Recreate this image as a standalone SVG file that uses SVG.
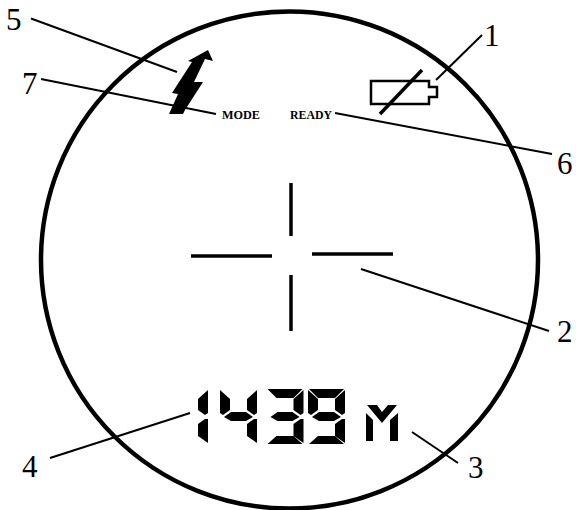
<svg xmlns="http://www.w3.org/2000/svg" width="576" height="510" viewBox="0 0 576 510">
<style>
.ln{stroke:#000;stroke-width:2;fill:none}
.num{font-family:"Liberation Serif",serif;font-size:31px;fill:#000}
.lb{font-family:"Liberation Serif",serif;font-size:12px;font-weight:bold;fill:#000}
.x{stroke:#000;stroke-width:3.500;fill:none}
</style>
<defs>
<polygon id="t" points="1,0 36,0 27,9 10,9"/>
<polygon id="b" points="1,55 36,55 27,47 10,47"/>
<polygon id="m" points="4,28 11,23 26,23 33,28 26,32 11,32"/>
<polygon id="ul" points="0,1 10,10 10,21 3,26 0,24"/>
<polygon id="ll" points="0,30 3,30 10,35 10,47 0,54"/>
<polygon id="ur" points="37,1 27,10 27,21 34,26 37,24"/>
<polygon id="lr" points="37,30 34,30 27,35 27,47 37,54"/>
</defs>
<g id="scope"><circle cx="289.500" cy="260" r="248.500" fill="none" stroke="#000" stroke-width="4.500"/></g>
<g id="connectors">
<line class="ln" x1="31" y1="18.500" x2="177" y2="72"/>
<line class="ln" x1="41" y1="79" x2="216" y2="114"/>
<line class="ln" x1="482" y1="35" x2="436" y2="80"/>
<line class="ln" x1="335" y1="113" x2="552" y2="154"/>
<line class="ln" x1="361" y1="269" x2="549" y2="331"/>
<line class="ln" x1="50" y1="458" x2="190" y2="413"/>
<line class="ln" x1="412" y1="432" x2="458" y2="463"/>
</g>
<g id="label-1"><text class="num" x="484" y="46">1</text></g>
<g id="label-2"><text class="num" x="557" y="342">2</text></g>
<g id="label-3"><text class="num" x="468" y="478">3</text></g>
<g id="label-4"><text class="num" x="22" y="477">4</text></g>
<g id="label-5"><text class="num" x="6" y="30">5</text></g>
<g id="label-6"><text class="num" x="557" y="174">6</text></g>
<g id="label-7"><text class="num" x="22" y="94">7</text></g>
<g id="bolt"><polygon fill="#000" points="188,61 208,50 213,61 205,59 194,82 203,82 185,110 183,114 169,114 178,94 172,93 192,62"/></g>
<g id="mode"><text class="lb" x="222" y="119" textLength="38" lengthAdjust="spacingAndGlyphs">MODE</text></g>
<g id="ready"><text class="lb" x="290" y="119" textLength="42" lengthAdjust="spacingAndGlyphs">READY</text></g>
<g id="battery">
<path d="M371,81H429V87H437V97H429V104H371Z" fill="none" stroke="#000" stroke-width="2.500"/>
<line x1="380" y1="114" x2="422" y2="70" stroke="#000" stroke-width="3.500"/>
</g>
<g id="crosshair">
<line class="x" x1="191" y1="256" x2="272" y2="256"/>
<line class="x" x1="312" y1="254" x2="393" y2="254"/>
<line class="x" x1="291" y1="183" x2="291" y2="236"/>
<line class="x" x1="291" y1="275" x2="291" y2="331"/>
</g>
<g id="readout" fill="#000">
<g transform="translate(171,389)"><use href="#ur"/><use href="#lr"/></g>
<g transform="translate(220,389)"><use href="#ul"/><use href="#m"/><use href="#ur"/><use href="#lr"/></g>
<g transform="translate(266.500,389)"><use href="#t"/><use href="#m"/><use href="#b"/><use href="#ur"/><use href="#lr"/></g>
<g transform="translate(308,389)"><use href="#t"/><use href="#ul"/><use href="#m"/><use href="#b"/><use href="#ur"/><use href="#lr"/></g>
<polygon points="367,405 377,405 382,412 388,405 397,405 382,423"/>
<polygon points="366,413 373,420 373,441 366,441"/>
<polygon points="398,413 390,420 390,441 398,441"/>
</g>
</svg>
